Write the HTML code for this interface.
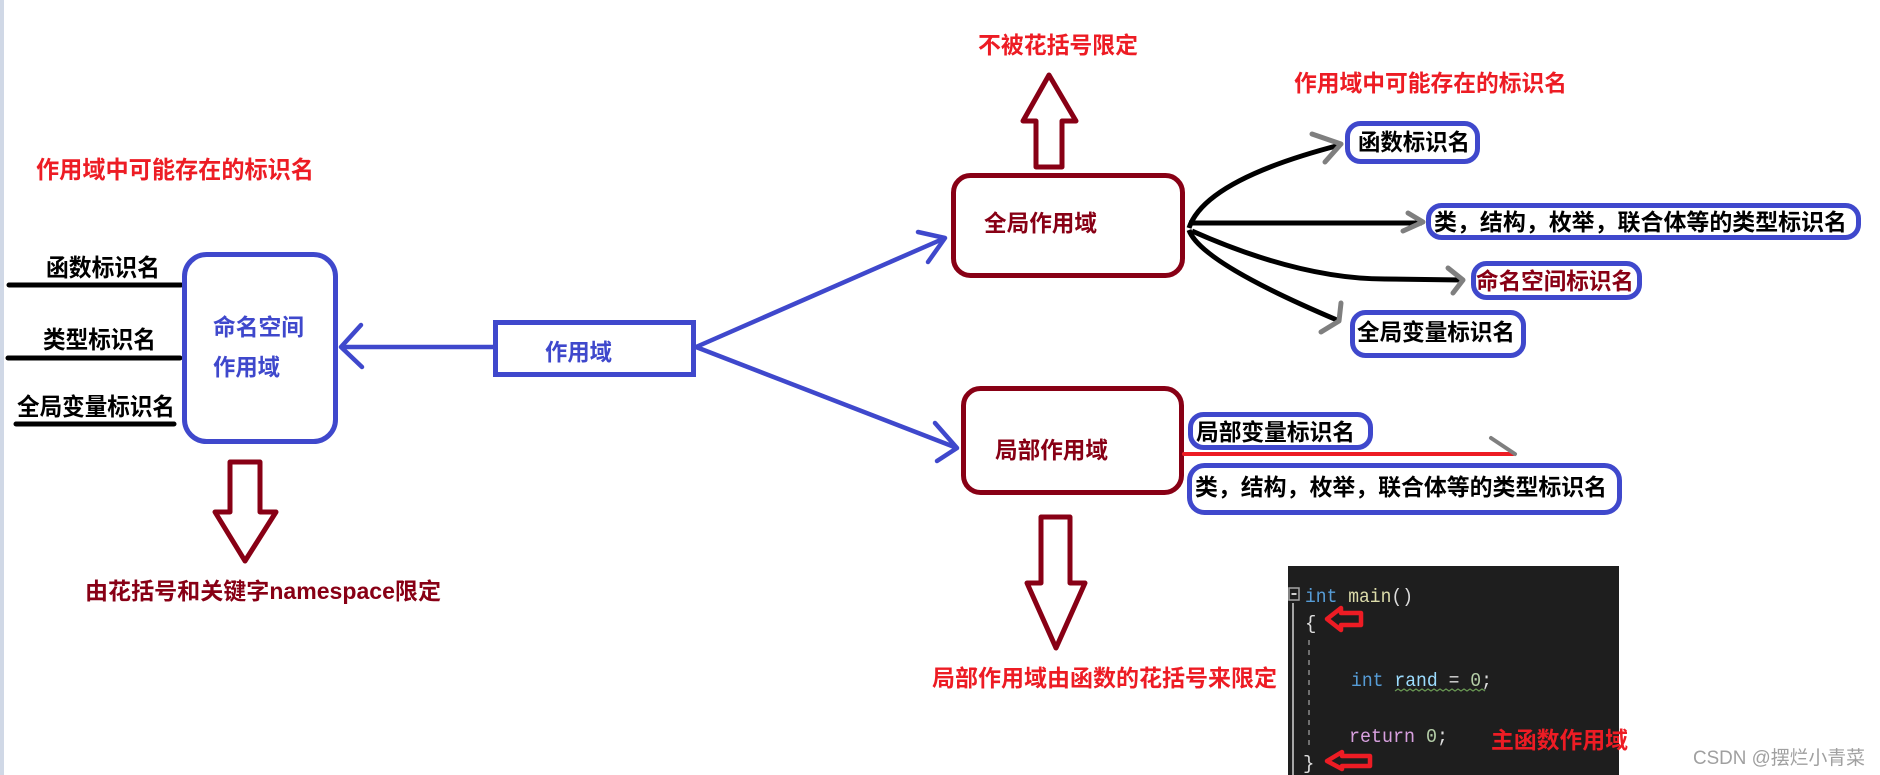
<!DOCTYPE html>
<html>
<head>
<meta charset="utf-8">
<style>
html,body{margin:0;padding:0;background:#fff;}
body{width:1880px;height:775px;overflow:hidden;position:relative;}
svg{display:block;}
.t{font-family:"Liberation Sans","Noto Sans CJK SC",sans-serif;font-weight:bold;}
.m{font-family:"Liberation Mono","DejaVu Sans Mono",monospace;font-size:19px;}
</style>
</head>
<body>
<svg width="1880" height="775" viewBox="0 0 1880 775" xmlns="http://www.w3.org/2000/svg">
<rect x="0" y="0" width="1880" height="775" fill="#fff"/>
<rect x="0" y="0" width="4" height="775" fill="#d0d8e6"/>

<!-- left title -->
<text class="t" x="36" y="178" font-size="24" fill="#ed1c24" textLength="278" lengthAdjust="spacingAndGlyphs">作用域中可能存在的标识名</text>

<!-- left labels -->
<text class="t" x="46" y="276" font-size="24" fill="#000" textLength="114" lengthAdjust="spacingAndGlyphs">函数标识名</text>
<line x1="9" y1="285" x2="181" y2="285" stroke="#000" stroke-width="5" stroke-linecap="round"/>
<text class="t" x="43" y="348" font-size="24" fill="#000" textLength="113" lengthAdjust="spacingAndGlyphs">类型标识名</text>
<line x1="8" y1="358" x2="180" y2="358" stroke="#000" stroke-width="5" stroke-linecap="round"/>
<text class="t" x="17" y="415" font-size="24" fill="#000" textLength="158" lengthAdjust="spacingAndGlyphs">全局变量标识名</text>
<line x1="16" y1="424" x2="174" y2="424" stroke="#000" stroke-width="5" stroke-linecap="round"/>

<!-- namespace box -->
<rect x="184.5" y="254.5" width="151" height="187" rx="22" fill="none" stroke="#3f48cc" stroke-width="5"/>
<text class="t" x="213" y="335" font-size="23" fill="#3f48cc" textLength="91" lengthAdjust="spacingAndGlyphs">命名空间</text>
<text class="t" x="213" y="375" font-size="23" fill="#3f48cc" textLength="67" lengthAdjust="spacingAndGlyphs">作用域</text>

<!-- arrow scope -> namespace -->
<line x1="341" y1="347" x2="494" y2="347" stroke="#3f48cc" stroke-width="4.5"/>
<polyline points="361,325 341,347 362,367" fill="none" stroke="#3f48cc" stroke-width="4.5" stroke-linecap="round" stroke-linejoin="round"/>

<!-- scope box -->
<rect x="495.5" y="322.5" width="198" height="52" fill="none" stroke="#3f48cc" stroke-width="5"/>
<text class="t" x="545" y="360" font-size="23" fill="#3f48cc" textLength="67" lengthAdjust="spacingAndGlyphs">作用域</text>

<!-- down arrow namespace -->
<polygon points="230,462 260,462 260,512 276,512 245,561 215,512 230,512" fill="#fff" stroke="#880015" stroke-width="5" stroke-linejoin="round"/>
<text class="t" x="85" y="599" font-size="23" fill="#880015" textLength="356" lengthAdjust="spacingAndGlyphs">由花括号和关键字namespace限定</text>

<!-- blue arrows to global / local -->
<line x1="696" y1="347" x2="945" y2="238" stroke="#3f48cc" stroke-width="4.5"/>
<polyline points="918,232 945,238 928,262" fill="none" stroke="#3f48cc" stroke-width="4.5" stroke-linecap="round" stroke-linejoin="round"/>
<line x1="696" y1="347" x2="957" y2="448" stroke="#3f48cc" stroke-width="4.5"/>
<polyline points="935,423 957,448 937,461" fill="none" stroke="#3f48cc" stroke-width="4.5" stroke-linecap="round" stroke-linejoin="round"/>

<!-- global box -->
<rect x="953.5" y="175.5" width="229" height="100" rx="17" fill="none" stroke="#880015" stroke-width="5"/>
<text class="t" x="984" y="231" font-size="23" fill="#880015" textLength="113" lengthAdjust="spacingAndGlyphs">全局作用域</text>

<!-- up arrow -->
<polygon points="1036,167 1036,121 1023,121 1049,75 1076,121 1062,121 1062,167" fill="#fff" stroke="#880015" stroke-width="5" stroke-linejoin="round"/>
<text class="t" x="978" y="53" font-size="23" fill="#ed1c24" textLength="160" lengthAdjust="spacingAndGlyphs">不被花括号限定</text>

<!-- right title -->
<text class="t" x="1294" y="91" font-size="23" fill="#ed1c24" textLength="273" lengthAdjust="spacingAndGlyphs">作用域中可能存在的标识名</text>

<!-- black curves -->
<path d="M1189,228 Q1205,180 1340,145" fill="none" stroke="#000" stroke-width="5"/>
<line x1="1189" y1="223" x2="1422" y2="223" stroke="#000" stroke-width="5"/>
<path d="M1192,231 Q1300,279 1385,279 L1462,280" fill="none" stroke="#000" stroke-width="5"/>
<path d="M1189,230 Q1200,262 1337,320" fill="none" stroke="#000" stroke-width="5"/>
<!-- gray arrowheads -->
<g fill="none" stroke="#7f7f7f" stroke-width="5" stroke-linecap="round" stroke-linejoin="round">
<polyline points="1312,134 1341,144 1325,162"/>
<polyline points="1408,213 1423,222 1403,231"/>
<polyline points="1448,268 1463,280 1453,293"/>
<polyline points="1341,303 1339,321 1321,332"/>
</g>

<!-- right boxes -->
<g fill="none" stroke="#3f48cc" stroke-width="5">
<rect x="1347.5" y="123.5" width="130" height="38" rx="13"/>
<rect x="1428.5" y="205.5" width="430" height="32" rx="13"/>
<rect x="1473.5" y="263.5" width="166" height="34" rx="13"/>
<rect x="1352.5" y="312.5" width="171" height="43" rx="13"/>
</g>
<text class="t" x="1358" y="150" font-size="23" fill="#000" textLength="112" lengthAdjust="spacingAndGlyphs">函数标识名</text>
<text class="t" x="1434" y="230" font-size="23" fill="#000" textLength="413" lengthAdjust="spacingAndGlyphs">类，结构，枚举，联合体等的类型标识名</text>
<text class="t" x="1476" y="289" font-size="23" fill="#880015" textLength="158" lengthAdjust="spacingAndGlyphs">命名空间标识名</text>
<text class="t" x="1357" y="340" font-size="23" fill="#000" textLength="158" lengthAdjust="spacingAndGlyphs">全局变量标识名</text>

<!-- local box -->
<rect x="963.5" y="388.5" width="218" height="104" rx="17" fill="none" stroke="#880015" stroke-width="5"/>
<text class="t" x="995" y="458" font-size="23" fill="#880015" textLength="113" lengthAdjust="spacingAndGlyphs">局部作用域</text>

<!-- down arrow local -->
<polygon points="1041,517 1070,517 1070,583 1085,583 1056,648 1027,583 1041,583" fill="#fff" stroke="#880015" stroke-width="5" stroke-linejoin="round"/>
<text class="t" x="932" y="686" font-size="23" fill="#ed1c24" textLength="345" lengthAdjust="spacingAndGlyphs">局部作用域由函数的花括号来限定</text>

<!-- local right items -->
<g fill="none" stroke="#3f48cc" stroke-width="5">
<rect x="1190.5" y="414.5" width="180" height="33" rx="13"/>
<rect x="1189.5" y="465.5" width="430" height="47" rx="15"/>
</g>
<text class="t" x="1196" y="440" font-size="23" fill="#000" textLength="159" lengthAdjust="spacingAndGlyphs">局部变量标识名</text>
<line x1="1184" y1="454" x2="1513" y2="454" stroke="#ed1c24" stroke-width="4" stroke-linecap="round"/>
<line x1="1491" y1="438" x2="1515" y2="454" stroke="#7f7f7f" stroke-width="4" stroke-linecap="round"/>
<text class="t" x="1195" y="495" font-size="23" fill="#000" textLength="412" lengthAdjust="spacingAndGlyphs">类，结构，枚举，联合体等的类型标识名</text>

<!-- code box -->
<rect x="1288" y="566" width="331" height="209" fill="#1e1e1e"/>
<rect x="1289" y="588" width="10" height="12" fill="none" stroke="#a5a5a5" stroke-width="1.5"/>
<line x1="1291.5" y1="594" x2="1296.5" y2="594" stroke="#d0d0d0" stroke-width="2"/>
<line x1="1293" y1="603" x2="1293" y2="775" stroke="#a5a5a5" stroke-width="2"/>
<line x1="1309" y1="640" x2="1309" y2="750" stroke="#8a8a8a" stroke-width="1.5" stroke-dasharray="5,5"/>
<text class="m" x="1305" y="602" xml:space="preserve" textLength="108" lengthAdjust="spacingAndGlyphs"><tspan fill="#569cd6">int</tspan><tspan fill="#dcdcaa"> main</tspan><tspan fill="#dcdcdc">()</tspan></text>
<text class="m" x="1305" y="629" fill="#dcdcdc">{</text>
<text class="m" x="1351" y="686" xml:space="preserve" textLength="141" lengthAdjust="spacingAndGlyphs"><tspan fill="#569cd6">int</tspan><tspan fill="#9cdcfe"> rand</tspan><tspan fill="#dcdcdc"> = </tspan><tspan fill="#b5cea8">0</tspan><tspan fill="#dcdcdc">;</tspan></text>
<path d="M1395,691 l3,-2 l3,2 l3,-2 l3,2 l3,-2 l3,2 l3,-2 l3,2 l3,-2 l3,2 l3,-2 l3,2 l3,-2 l3,2 l3,-2 l3,2 l3,-2 l3,2 l3,-2 l3,2 l3,-2 l3,2 l3,-2 l3,2 l3,-2 l3,2 l3,-2 l3,2 l3,-2 l3,2" fill="none" stroke="#6a9955" stroke-width="1.2"/>
<text class="m" x="1349" y="742" xml:space="preserve" textLength="99" lengthAdjust="spacingAndGlyphs"><tspan fill="#d8a0df">return</tspan><tspan fill="#b5cea8"> 0</tspan><tspan fill="#dcdcdc">;</tspan></text>
<text class="m" x="1303" y="769" fill="#dcdcdc">}</text>
<!-- red arrows in code -->
<polygon points="1327,619 1341,608 1341,613 1361,613 1361,625 1341,625 1341,630" fill="none" stroke="#ed1c24" stroke-width="4.5" stroke-linejoin="round"/>
<polygon points="1327,761 1342,752 1342,756 1370,756 1370,766 1342,766 1342,769" fill="none" stroke="#ed1c24" stroke-width="4.5" stroke-linejoin="round"/>
<text class="t" x="1491" y="748" font-size="23" fill="#ed1c24" textLength="137" lengthAdjust="spacingAndGlyphs">主函数作用域</text>

<!-- watermark -->
<text x="1693" y="764" font-family="Liberation Sans, Noto Sans CJK SC, sans-serif" font-size="19" fill="#a0a0a0" textLength="172" lengthAdjust="spacingAndGlyphs">CSDN @摆烂小青菜</text>
</svg>
</body>
</html>
